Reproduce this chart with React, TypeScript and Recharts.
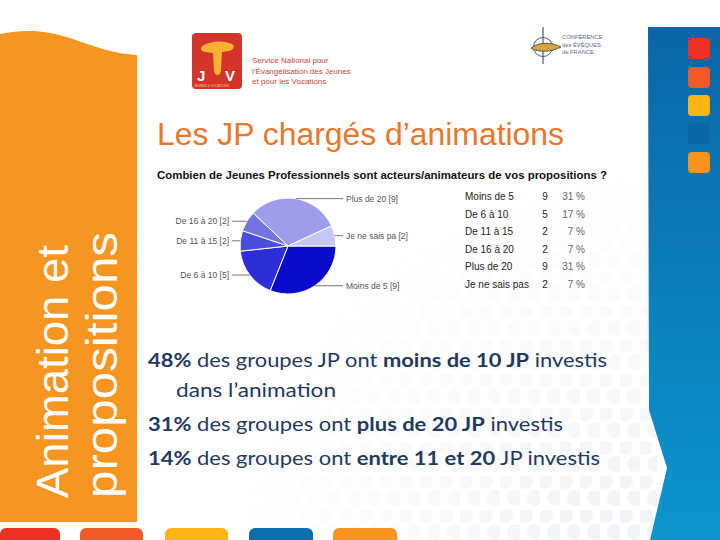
import React from 'react';
import { PieChart, Pie, Cell } from 'recharts';

// survey answers: how many "Jeunes Professionnels" are involved
const categories = ['Moins de 5', 'De 6 à 10', 'De 11 à 15', 'De 16 à 20', 'Plus de 20', 'Je ne sais pas'];
const counts = [9, 5, 2, 2, 9, 2];
const percents = [31, 17, 7, 7, 31, 7];
const sliceLabels = ['Moins de 5 [9]', 'De 6 à 10 [5]', 'De 11 à 15 [2]', 'De 16 à 20 [2]', 'Plus de 20 [9]', 'Je ne sais pa [2]'];
const sliceColors = ['#0b0bcc', '#2e2ed9', '#4c4cdf', '#7373e3', '#9d9dec', '#c6c6f4'];

const FONT = '"Liberation Sans", Arial, sans-serif';
const NAVY = '#1f3a5f';

const pieData = categories.map((name, i) => ({ name, value: counts[i] }));

function renderSliceLabel(props: any) {
  const { cx, cy, midAngle, outerRadius, index } = props;
  const rad = Math.PI / 180;
  const x0 = cx + outerRadius * Math.cos(-midAngle * rad);
  const y0 = cy + outerRadius * Math.sin(-midAngle * rad);
  const right = x0 > cx;
  const xEnd = right ? 343 : 232;
  return (
    <g key={`lbl-${index}`}>
      <line x1={x0} y1={y0} x2={xEnd} y2={y0} stroke="#777" strokeWidth={1} />
      <text
        x={right ? xEnd + 3 : xEnd - 3}
        y={y0}
        dy="0.35em"
        textAnchor={right ? 'start' : 'end'}
        fontSize={8.5}
        fill="#555"
        fontFamily={FONT}
      >
        {sliceLabels[index]}
      </text>
    </g>
  );
}

function Background() {
  const bottomSquares = [
    { x: 0, w: 60, c: '#ee3124' },
    { x: 80, w: 63, c: '#f15a29' },
    { x: 165, w: 63, c: '#fdb515' },
    { x: 249, w: 64, c: '#0b6eae' },
    { x: 333, w: 64, c: '#f7941d' },
  ];
  const sideSquares = [
    { y: 38, c: '#ee3124' },
    { y: 67, c: '#f15a29' },
    { y: 95, c: '#fdb515' },
    { y: 123, c: '#0a67a6' },
    { y: 152, c: '#f7941d' },
  ];
  return (
    <svg width={720} height={540} style={{ position: 'absolute', left: 0, top: 0 }}>
      <defs>
        <pattern id="dots" width={20} height={34} patternUnits="userSpaceOnUse">
          <circle cx={5} cy={5} r={8} fill="#eef2f6" />
          <circle cx={15} cy={22} r={8} fill="#eef2f6" />
        </pattern>
        <radialGradient id="fade" cx={640} cy={580} r={400} gradientUnits="userSpaceOnUse">
          <stop offset="0" stopColor="#fff" stopOpacity={1} />
          <stop offset="0.55" stopColor="#fff" stopOpacity={0.45} />
          <stop offset="1" stopColor="#fff" stopOpacity={0} />
        </radialGradient>
        <mask id="dotMask">
          <rect x={0} y={0} width={720} height={540} fill="url(#fade)" />
        </mask>
        <linearGradient id="blue" x1="0" y1="0" x2="0" y2="1">
          <stop offset="0" stopColor="#0a66a6" />
          <stop offset="1" stopColor="#0c96cd" />
        </linearGradient>
      </defs>
      <rect width={720} height={540} fill="#fff" />
      <rect x={137} y={0} width={520} height={540} fill="url(#dots)" mask="url(#dotMask)" />

      {/* left orange band */}
      <path d="M0,34 C25,29 45,30 70,38 C95,47 115,54 137,55 L137,522 L0,522 Z" fill="#f6951f" />
      <text transform="translate(68,498) rotate(-90)" fontSize={44} fill="#fff" fontFamily={FONT} textLength={253} lengthAdjust="spacingAndGlyphs">
        Animation et
      </text>
      <text transform="translate(117,498) rotate(-90)" fontSize={44} fill="#fff" fontFamily={FONT} textLength={266} lengthAdjust="spacingAndGlyphs">
        propositions
      </text>

      {/* right blue band */}
      <polygon points="648,27 720,27 720,540 650,540 667,468 649,410" fill="url(#blue)" />
      {sideSquares.map((s, i) => (
        <rect key={i} x={688} y={s.y} width={22} height={21} rx={4} fill={s.c} />
      ))}
      {bottomSquares.map((s, i) => (
        <rect key={i} x={s.x} y={528} width={s.w} height={20} rx={6} fill={s.c} />
      ))}

      {/* JV logo */}
      <rect x={192} y={33} width={50} height={56} rx={4} fill="#d4342a" />
      <path d="M204,45 C212,41 222,40 232,44 C236,46 233,51 228,51 L222,52 L221,70 C221,76 215,77 214,71 L213,53 L205,52 C200,51 200,47 204,45 Z" fill="#f8b133" />
      <text x={197} y={81} fontSize={15} fontWeight="bold" fill="#fff" fontFamily={FONT}>J</text>
      <text x={225} y={81} fontSize={15} fontWeight="bold" fill="#fff" fontFamily={FONT}>V</text>
      <text x={194} y={87} fontSize={3.2} fill="#fbd36a" fontFamily={FONT}>JEUNES &amp; VOCATIONS</text>
      {['Service National pour', 'l’Évangélisation des Jeunes', 'et pour les Vocations'].map((t, i) => (
        <text key={t} x={252} y={63 + i * 10.5} fontSize={8} fill="#c8453a" fontFamily={FONT}>{t}</text>
      ))}

      {/* CEF logo */}
      <circle cx={543} cy={47} r={9.5} fill="none" stroke="#4a5a7a" strokeWidth={1} />
      <line x1={543} y1={27} x2={543} y2={64} stroke="#4a5a7a" strokeWidth={1.2} />
      <path d="M531,48 C538,42 552,42 561,47 C552,52 538,53 531,48 Z" fill="#d6a340" stroke="#3d3d3d" strokeWidth={0.8} />
      {['CONFÉRENCE', 'des ÉVÊQUES', 'de FRANCE'].map((t, i) => (
        <text key={t} x={562} y={39 + i * 7.5} fontSize={5.8} fill="#5a6a8a" fontFamily={FONT}>{t}</text>
      ))}
    </svg>
  );
}

function Texts() {
  const rowY = [200, 218, 235, 253, 270, 288];
  return (
    <svg width={720} height={540} style={{ position: 'absolute', left: 0, top: 0 }}>
      <text x={157} y={145} fontSize={31} fill="#e8772e" fontFamily={FONT} textLength={407} lengthAdjust="spacingAndGlyphs">
        Les JP chargés d’animations
      </text>
      <text x={157} y={179} fontSize={10.5} fontWeight="bold" fill="#111" fontFamily={FONT} textLength={450} lengthAdjust="spacingAndGlyphs">
        Combien de Jeunes Professionnels sont acteurs/animateurs de vos propositions ?
      </text>
      {categories.map((c, i) => (
        <g key={c} fontFamily={FONT} fontSize={10}>
          <text x={465} y={rowY[i]} fill="#222">{c}</text>
          <text x={545} y={rowY[i]} fill="#222" textAnchor="middle">{counts[i]}</text>
          <text x={585} y={rowY[i]} fill="#666" textAnchor="end">{percents[i]} %</text>
        </g>
      ))}

      <g fontFamily="Lato, 'Open Sans', sans-serif" fontSize={19.5} fill={NAVY}>
        <text x={148} y={367} textLength={459} lengthAdjust="spacingAndGlyphs">
          <tspan fontWeight="bold">48%</tspan> des groupes JP ont <tspan fontWeight="bold">moins de 10 JP</tspan> investis
        </text>
        <text x={176} y={397} textLength={160} lengthAdjust="spacingAndGlyphs">dans l’animation</text>
        <text x={148} y={431} textLength={415} lengthAdjust="spacingAndGlyphs">
          <tspan fontWeight="bold">31%</tspan> des groupes ont <tspan fontWeight="bold">plus de 20 JP</tspan> investis
        </text>
        <text x={148} y={465} textLength={452} lengthAdjust="spacingAndGlyphs">
          <tspan fontWeight="bold">14%</tspan> des groupes ont <tspan fontWeight="bold">entre 11 et 20</tspan> JP investis
        </text>
      </g>
    </svg>
  );
}

export default function App() {
  return (
    <div style={{ position: 'absolute', left: 0, top: 0, width: 720, height: 540, overflow: 'hidden', background: '#fff' }}>
      <Background />
      <Texts />
      <PieChart
        width={720}
        height={540}
        margin={{ top: 0, right: 0, bottom: 0, left: 0 }}
        style={{ position: 'absolute', left: 0, top: 0 }}
      >
        <Pie
          data={pieData}
          dataKey="value"
          nameKey="name"
          cx={288}
          cy={246}
          outerRadius={48}
          startAngle={0}
          endAngle={-360}
          stroke="#fff"
          strokeWidth={1}
          labelLine={false}
          label={renderSliceLabel}
          isAnimationActive={false}
        >
          {pieData.map((d, i) => (
            <Cell key={d.name} fill={sliceColors[i]} />
          ))}
        </Pie>
      </PieChart>
    </div>
  );
}
